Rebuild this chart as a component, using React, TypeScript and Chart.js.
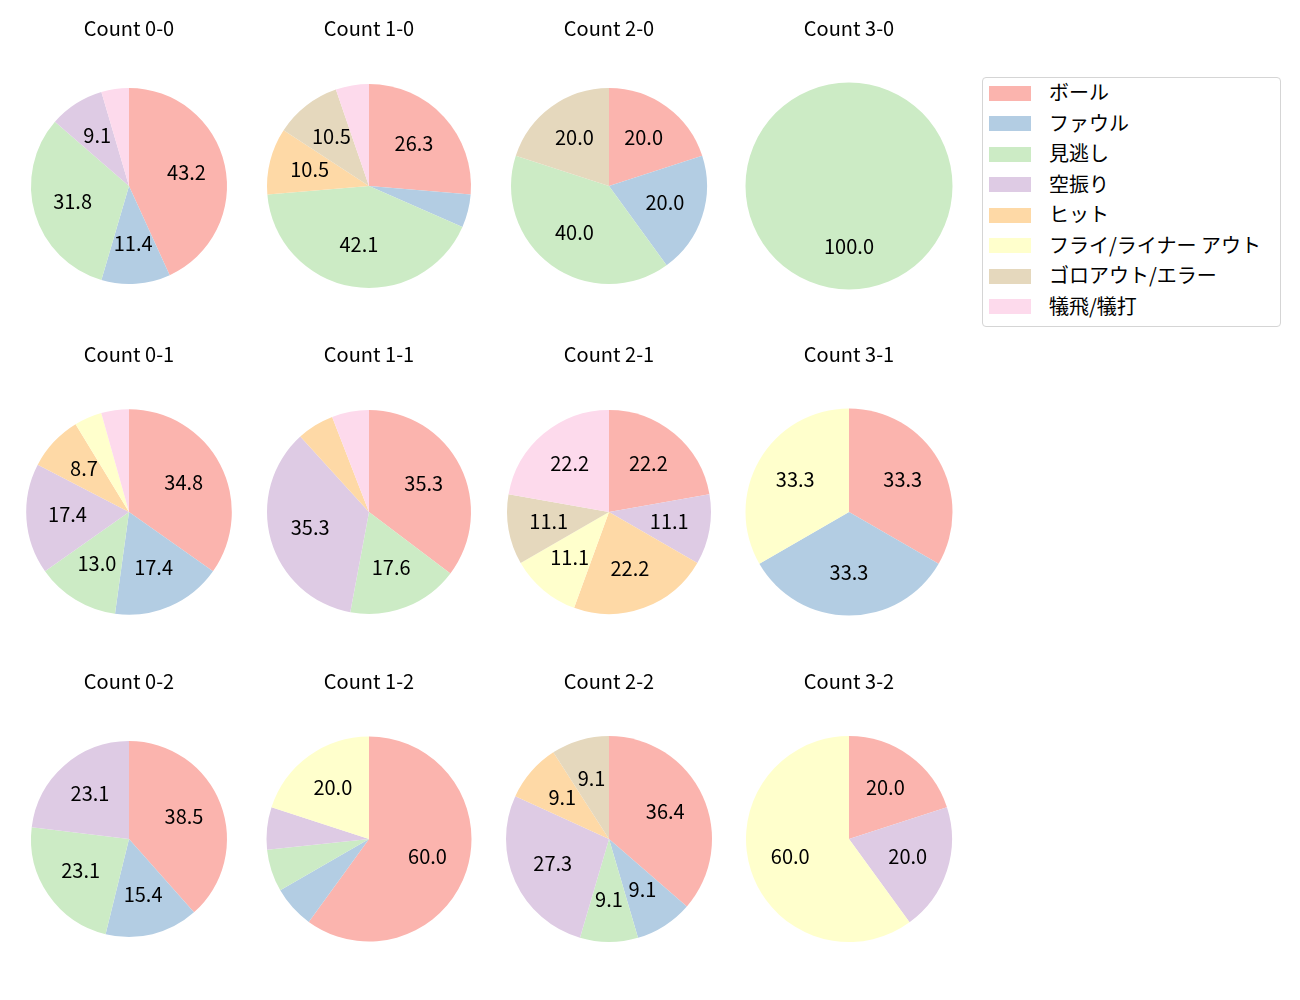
import React, { useEffect, useRef } from 'react';
import { Chart, registerables } from 'chart.js';

Chart.register(...registerables);

const categories = ['ボール', 'ファウル', '見逃し', '空振り', 'ヒット', 'フライ/ライナー アウト', 'ゴロアウト/エラー', '犠飛/犠打'];
const colors = ['#fbb4ae', '#b3cde3', '#ccebc5', '#decbe4', '#fed9a6', '#ffffcc', '#e5d8bd', '#fddaec'];

const titles = [
  'Count 0-0', 'Count 1-0', 'Count 2-0', 'Count 3-0',
  'Count 0-1', 'Count 1-1', 'Count 2-1', 'Count 3-1',
  'Count 0-2', 'Count 1-2', 'Count 2-2', 'Count 3-2',
];

// counts per category (order as categories)
const count00 = [19, 5, 14, 4, 0, 0, 0, 2];
const count10 = [5, 1, 8, 0, 2, 0, 2, 1];
const count20 = [1, 1, 2, 0, 0, 0, 1, 0];
const count30 = [0, 0, 1, 0, 0, 0, 0, 0];
const count01 = [8, 4, 3, 4, 2, 1, 0, 1];
const count11 = [6, 0, 3, 6, 1, 0, 0, 1];
const count21 = [2, 0, 0, 1, 2, 1, 1, 2];
const count31 = [1, 1, 0, 0, 0, 1, 0, 0];
const count02 = [5, 2, 3, 3, 0, 0, 0, 0];
const count12 = [9, 1, 1, 1, 0, 3, 0, 0];
const count22 = [4, 1, 1, 3, 1, 0, 1, 0];
const count32 = [1, 0, 0, 1, 0, 3, 0, 0];

const series = [count00, count10, count20, count30, count01, count11, count21, count31, count02, count12, count22, count32];

// layout (not data)
const colX = [129, 369, 608.8, 848.8];
const rowY = [186, 512, 838.5];
const radii = [98, 102, 98, 103.5, 102.8, 102, 102, 103.5, 98, 102.5, 103, 103];

const FONT = '"Noto Sans CJK JP", "Noto Sans", sans-serif';
const FS = 20;
const CW = 240;
const CH = 320;

const pctLabelPlugin = {
  id: 'pctLabels',
  afterDatasetsDraw(chart: any) {
    const ctx = chart.ctx;
    const meta = chart.getDatasetMeta(0);
    const data = chart.data.datasets[0].data as number[];
    const total = data.reduce((a, b) => a + b, 0);
    ctx.save();
    ctx.font = `${FS}px ${FONT}`;
    ctx.fillStyle = '#000';
    ctx.textAlign = 'center';
    ctx.textBaseline = 'middle';
    meta.data.forEach((arc: any, i: number) => {
      const pct = (data[i] / total) * 100;
      if (pct < 7) return;
      const { x, y, startAngle, endAngle, outerRadius } = arc.getProps(['x', 'y', 'startAngle', 'endAngle', 'outerRadius'], true);
      const mid = (startAngle + endAngle) / 2;
      const r = outerRadius * 0.6;
      ctx.fillText(pct.toFixed(1), x + Math.cos(mid) * r, y + Math.sin(mid) * r - 1.5);
    });
    ctx.restore();
  },
};

function Pie({ idx }: { idx: number }) {
  const ref = useRef<HTMLCanvasElement>(null);
  useEffect(() => {
    const chart = new Chart(ref.current!, {
      type: 'pie',
      data: {
        labels: categories,
        datasets: [{ data: series[idx], backgroundColor: colors, borderWidth: 0, radius: radii[idx] }],
      },
      options: {
        animation: false,
        responsive: false,
        devicePixelRatio: 1,
        layout: { padding: { bottom: 13.8 } },
        plugins: {
          legend: { display: false },
          tooltip: { enabled: false },
          title: {
            display: true,
            text: titles[idx],
            color: '#000',
            font: { family: FONT, size: FS, weight: 'normal', lineHeight: 1.2 },
            padding: { top: 0, bottom: 9.8 },
          },
        },
      },
      plugins: [pctLabelPlugin],
    });
    return () => chart.destroy();
  }, [idx]);
  const col = idx % 4;
  const row = Math.floor(idx / 4);
  return (
    <canvas
      ref={ref}
      width={CW}
      height={CH}
      style={{ position: 'absolute', left: colX[col] - CW / 2, top: rowY[row] - 170, width: CW, height: CH }}
    />
  );
}

export default function App() {
  return (
    <div style={{ position: 'absolute', left: 0, top: 0, width: 1300, height: 1000, background: '#fff', overflow: 'hidden' }}>
      {series.map((_, i) => (
        <Pie key={i} idx={i} />
      ))}
      <div
        style={{
          position: 'absolute',
          left: 982,
          top: 77,
          width: 297,
          height: 248,
          border: '1px solid #d5d5d5',
          borderRadius: 4,
          fontFamily: FONT,
          fontSize: FS,
          color: '#000',
        }}
      >
        {categories.map((c, i) => (
          <div key={c} style={{ position: 'absolute', left: 6, top: 15.3 + 30.5 * i - 15, height: 30, display: 'flex', alignItems: 'center', whiteSpace: 'nowrap' }}>
            <span style={{ display: 'inline-block', width: 42, height: 15, background: colors[i] }} />
            <span style={{ marginLeft: 18, lineHeight: '30px', position: 'relative', top: -1 }}>{c}</span>
          </div>
        ))}
      </div>
    </div>
  );
}
